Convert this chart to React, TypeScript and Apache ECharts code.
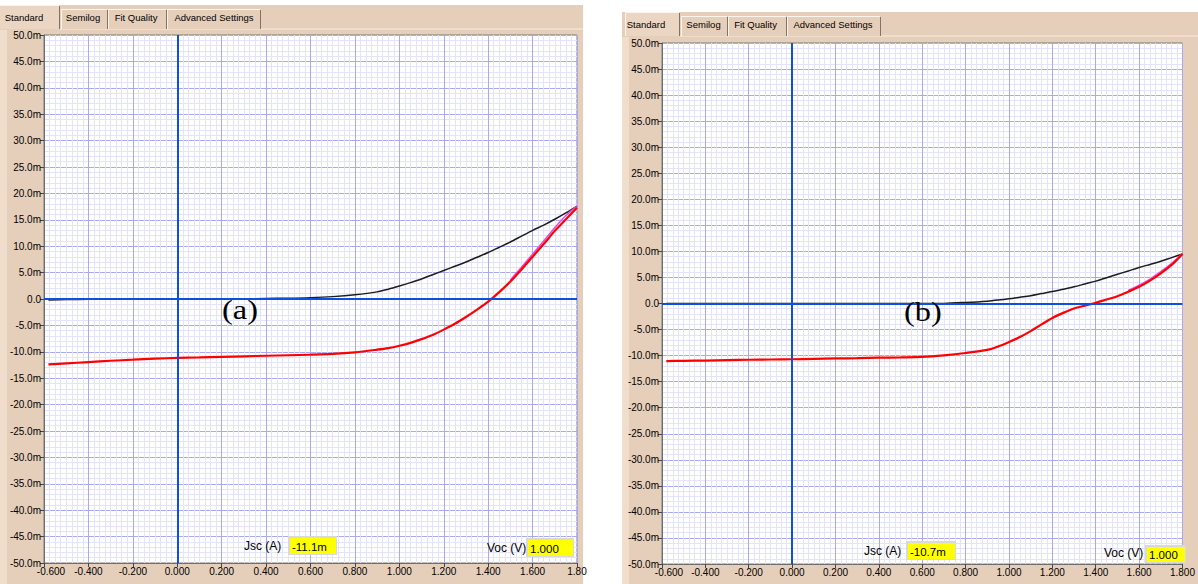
import React, { useEffect, useRef } from "react";
import * as echarts from "echarts";

// ---------- data (voltage in V, current in mA) ----------
const V_A = [-0.58, -0.5, -0.4, -0.3, -0.2, -0.1, 0, 0.1, 0.2, 0.3, 0.4, 0.5, 0.6, 0.7, 0.8, 0.9, 0.95, 1.0, 1.05, 1.1, 1.15, 1.2, 1.25, 1.3, 1.35, 1.4, 1.45, 1.5, 1.55, 1.6, 1.65, 1.7, 1.75, 1.8];
const DARK_A = [-0.2, -0.1, -0.05, 0, 0, 0, 0, 0, 0, 0.02, 0.1, 0.15, 0.25, 0.45, 0.8, 1.35, 1.85, 2.45, 3.1, 3.8, 4.6, 5.4, 6.2, 7.0, 7.9, 8.8, 9.8, 10.8, 11.9, 13.0, 14.0, 15.1, 16.3, 17.6];
const LIGHT_A = [-12.4, -12.2, -11.95, -11.7, -11.5, -11.3, -11.15, -11.05, -10.95, -10.85, -10.75, -10.65, -10.55, -10.4, -10.1, -9.6, -9.3, -8.85, -8.3, -7.6, -6.8, -5.8, -4.7, -3.4, -2.0, -0.5, 1.3, 3.3, 5.6, 8.0, 10.4, 12.9, 15.1, 17.3];
const FIT_V_A = [1.5, 1.55, 1.6, 1.65, 1.7, 1.75, 1.8];
const FIT_A = [3.6, 6.0, 8.5, 11.0, 13.5, 15.8, 17.6];

const V_B = [-0.58, -0.5, -0.4, -0.3, -0.2, -0.1, 0, 0.1, 0.2, 0.3, 0.4, 0.5, 0.6, 0.7, 0.8, 0.9, 0.95, 1.0, 1.05, 1.1, 1.15, 1.2, 1.25, 1.3, 1.35, 1.4, 1.45, 1.5, 1.55, 1.6, 1.65, 1.7, 1.75, 1.8];
const DARK_B = [0, 0, 0, 0, 0, 0, 0, 0, 0, 0, 0, 0, 0, 0.02, 0.2, 0.45, 0.65, 0.9, 1.2, 1.5, 1.9, 2.3, 2.75, 3.2, 3.75, 4.3, 4.95, 5.6, 6.25, 6.9, 7.5, 8.1, 8.8, 9.5];
const LIGHT_B = [-11.05, -11.0, -10.95, -10.85, -10.8, -10.75, -10.7, -10.62, -10.55, -10.48, -10.4, -10.35, -10.26, -9.95, -9.5, -8.9, -8.26, -7.4, -6.45, -5.3, -4.0, -2.77, -1.8, -0.97, -0.4, 0.13, 0.77, 1.4, 2.26, 3.2, 4.4, 5.8, 7.4, 9.5];
const FIT_V_B = [1.55, 1.6, 1.65, 1.7, 1.75, 1.8];
const FIT_B = [2.5, 3.5, 4.7, 6.1, 7.7, 9.6];

const X_MIN = -0.6;
const X_MAX = 1.8;
const X_STEP = 0.2;
const Y_MIN = -50;
const Y_MAX = 50;
const Y_STEP = 5;

const TAB_LABELS = ["Standard", "Semilog", "Fit Quality", "Advanced Settings"];
const PANEL_LABELS = ["(a)", "(b)"];
const JSC_VALUES = ["-11.1m", "-10.7m"];
const VOC_VALUES = ["1.000", "1.000"];

// ---------- styling ----------
const BEIGE = "#e6cfba";
const MAJOR = "#a9a9f3";
const MINOR = "#e3e3fb";
const ZERO_BLUE = "#0c4fe2";
const FONT = "Liberation Sans";

const pair = (xs: number[], ys: number[]) => xs.map((x, i) => [x, ys[i]]);

function xAxisFor(gridIndex: number, clipLast: boolean) {
  return {
    type: "value",
    gridIndex,
    min: X_MIN,
    max: X_MAX,
    interval: X_STEP,
    axisLine: { show: true, onZero: false, lineStyle: { color: "#6e6e6e", width: 1 } },
    axisTick: { show: true, length: 4, lineStyle: { color: "#444" } },
    axisLabel: {
      fontSize: 10,
      fontFamily: FONT,
      color: "#000",
      margin: 3,
      showMaxLabel: true,
      showMinLabel: true,
      formatter: (v: number) => {
        if (Math.abs(v - X_MIN) < 1e-6) return "{first|" + v.toFixed(3) + "}";
        if (clipLast && Math.abs(v - X_MAX) < 1e-6) return "1.80";
        return v.toFixed(3);
      },
      rich: {
        first: { fontSize: 10, fontFamily: FONT, color: "#000", padding: [0, 0, 0, 14] },
      },
    },
    splitLine: { show: true, lineStyle: { color: MAJOR, width: 1 } },
    minorTick: { show: false, splitNumber: 8 },
    minorSplitLine: { show: true, lineStyle: { color: MINOR, width: 1 } },
  };
}

function yAxisFor(gridIndex: number) {
  return {
    type: "value",
    gridIndex,
    min: Y_MIN,
    max: Y_MAX,
    interval: Y_STEP,
    axisLine: { show: true, onZero: false, lineStyle: { color: "#6e6e6e", width: 1 } },
    axisTick: { show: true, length: 4, lineStyle: { color: "#444" } },
    axisLabel: {
      fontSize: 10,
      fontFamily: FONT,
      color: "#000",
      margin: 3,
      formatter: (v: number) => (Math.abs(v) < 1e-9 ? "0.0" : v.toFixed(1) + "m"),
    },
    splitLine: { show: true, lineStyle: { color: MAJOR, width: 1 } },
    minorTick: { show: false, splitNumber: 5 },
    minorSplitLine: { show: true, lineStyle: { color: MINOR, width: 1 } },
  };
}

function seriesFor(i: number, v: number[], dark: number[], light: number[], fv: number[], fit: number[]) {
  return [
    {
      type: "line",
      name: "dark" + i,
      xAxisIndex: i,
      yAxisIndex: i,
      data: pair(v, dark),
      showSymbol: false,
      smooth: 0.3,
      lineStyle: { color: "#1c1c1c", width: 1.5 },
      z: 2,
      emphasis: { disabled: true },
    },
    {
      type: "line",
      name: "axes" + i,
      xAxisIndex: i,
      yAxisIndex: i,
      data: [],
      showSymbol: false,
      z: 3,
      markLine: {
        silent: true,
        symbol: ["none", "none"],
        label: { show: false },
        emphasis: { disabled: true },
        lineStyle: { color: ZERO_BLUE, width: 2, type: "solid" },
        data: [{ xAxis: 0 }, { yAxis: 0 }],
      },
    },
    {
      type: "line",
      name: "fit" + i,
      xAxisIndex: i,
      yAxisIndex: i,
      data: pair(fv, fit),
      showSymbol: false,
      smooth: 0.3,
      lineStyle: { color: "#e24ae2", width: 1.5 },
      z: 3,
      emphasis: { disabled: true },
    },
    {
      type: "line",
      name: "light" + i,
      xAxisIndex: i,
      yAxisIndex: i,
      data: pair(v, light),
      showSymbol: false,
      smooth: 0.3,
      lineStyle: { color: "#ff0000", width: 2.2 },
      z: 4,
      emphasis: { disabled: true },
    },
  ];
}

type TabGeom = { x: number; w: number; cx: number; active: boolean };

function tabs(ox: number, oy: number, geoms: TabGeom[], panelW: number) {
  const els: any[] = [];
  els.push({
    type: "line",
    z: 50,
    shape: { x1: ox + geoms[0].x + geoms[0].w, y1: oy + 24, x2: ox + panelW, y2: oy + 24 },
    style: { stroke: "#f7ece2", lineWidth: 1 },
  });
  geoms.forEach((g, i) => {
    const top = g.active ? oy : oy + 4;
    const bottom = oy + 24;
    els.push({
      type: "rect",
      z: 51,
      shape: { x: ox + g.x, y: top, width: g.w, height: bottom - top },
      style: { fill: g.active ? "#ebd6c3" : BEIGE },
    });
    els.push({
      type: "polyline",
      z: 52,
      shape: { points: [[ox + g.x + 0.5, bottom], [ox + g.x + 0.5, top + 0.5], [ox + g.x + g.w - 1, top + 0.5]] },
      style: { stroke: "#fbf4ec", lineWidth: 1, fill: null },
    });
    els.push({
      type: "line",
      z: 52,
      shape: { x1: ox + g.x + g.w - 0.5, y1: top + 1, x2: ox + g.x + g.w - 0.5, y2: bottom },
      style: { stroke: "#847264", lineWidth: 1 },
    });
    els.push({
      type: "text",
      z: 53,
      x: ox + g.cx,
      y: oy + 12,
      style: {
        text: TAB_LABELS[i],
        fontFamily: FONT,
        fontSize: 9.5,
        fill: "#000",
        align: "center",
        verticalAlign: "middle",
      },
    });
  });
  return els;
}

function valueBox(x: number, y: number, w: number, h: number, text: string) {
  return [
    {
      type: "rect",
      z: 60,
      shape: { x: x - 2, y: y - 2, width: w + 3, height: h + 3 },
      style: { fill: "#d9d9d9" },
    },
    {
      type: "rect",
      z: 61,
      shape: { x, y, width: w, height: h },
      style: { fill: "#ffff00" },
    },
    {
      type: "text",
      z: 62,
      x: x + 2,
      y: y + h / 2 + 0.5,
      style: { text, fontFamily: FONT, fontSize: 11.5, fill: "#000", align: "left", verticalAlign: "middle" },
    },
  ];
}

function caption(x: number, y: number, text: string) {
  return {
    type: "text",
    z: 70,
    x,
    y,
    style: { text, fontFamily: FONT, fontSize: 12, fill: "#000", align: "left", verticalAlign: "middle" },
  };
}

function panelLabel(x: number, y: number, text: string) {
  return {
    type: "text",
    z: 70,
    x,
    y,
    scaleX: 1.2,
    style: {
      text,
      fontFamily: "Liberation Serif",
      fontWeight: "normal",
      fontSize: 27,
      fill: "#000",
      align: "left",
      verticalAlign: "middle",
    },
  };
}

function buildOption() {
  const graphic: any[] = [
    { type: "rect", z: -10, shape: { x: 0, y: 5, width: 583, height: 579 }, style: { fill: BEIGE } },
    { type: "rect", z: -9, shape: { x: 0, y: 30, width: 7, height: 554 }, style: { fill: "#f1ddcc" } },
    { type: "rect", z: -10, shape: { x: 622, y: 12, width: 576, height: 572 }, style: { fill: BEIGE } },
    { type: "rect", z: -9, shape: { x: 622, y: 37, width: 7, height: 547 }, style: { fill: "#f1ddcc" } },
    ...tabs(0, 5, [
      { x: -2, w: 62, cx: 24, active: true },
      { x: 61, w: 47, cx: 83, active: false },
      { x: 108, w: 59, cx: 136, active: false },
      { x: 167, w: 94, cx: 214, active: false },
    ], 583),
    ...tabs(622, 12, [
      { x: 3, w: 55, cx: 24, active: true },
      { x: 59, w: 47, cx: 81.5, active: false },
      { x: 106, w: 59, cx: 133.5, active: false },
      { x: 165, w: 94, cx: 211, active: false },
    ], 576),
    caption(244, 546, "Jsc (A)"),
    ...valueBox(290, 538, 46, 16, JSC_VALUES[0]),
    caption(487, 548, "Voc (V)"),
    ...valueBox(528, 540, 45, 16, VOC_VALUES[0]),
    caption(864, 551, "Jsc (A)"),
    ...valueBox(908, 543, 47, 16, JSC_VALUES[1]),
    caption(1104, 553, "Voc (V)"),
    ...valueBox(1147, 547, 38, 15, VOC_VALUES[1]),
    panelLabel(222, 309, PANEL_LABELS[0]),
    panelLabel(904, 311, PANEL_LABELS[1]),
  ];

  return {
    animation: false,
    backgroundColor: "#ffffff",
    grid: [
      { left: 44, top: 35, width: 533, height: 528, show: true, backgroundColor: "#ffffff", borderColor: "#7a7a7a", borderWidth: 1 },
      { left: 662, top: 43, width: 536, height: 521, show: true, backgroundColor: "#ffffff", borderColor: "#7a7a7a", borderWidth: 1 },
    ],
    xAxis: [xAxisFor(0, true), xAxisFor(1, false)],
    yAxis: [yAxisFor(0), yAxisFor(1)],
    series: [
      ...seriesFor(0, V_A, DARK_A, LIGHT_A, FIT_V_A, FIT_A),
      ...seriesFor(1, V_B, DARK_B, LIGHT_B, FIT_V_B, FIT_B),
    ],
    graphic,
  };
}

export default function App() {
  const ref = useRef<HTMLDivElement>(null);
  useEffect(() => {
    if (!ref.current) return;
    const chart = echarts.init(ref.current, null, { renderer: "svg" });
    chart.setOption(buildOption() as any);
    return () => chart.dispose();
  }, []);
  return (
    <div
      ref={ref}
      style={{ position: "fixed", left: 0, top: 0, width: 1198, height: 584, background: "#ffffff" }}
    />
  );
}
